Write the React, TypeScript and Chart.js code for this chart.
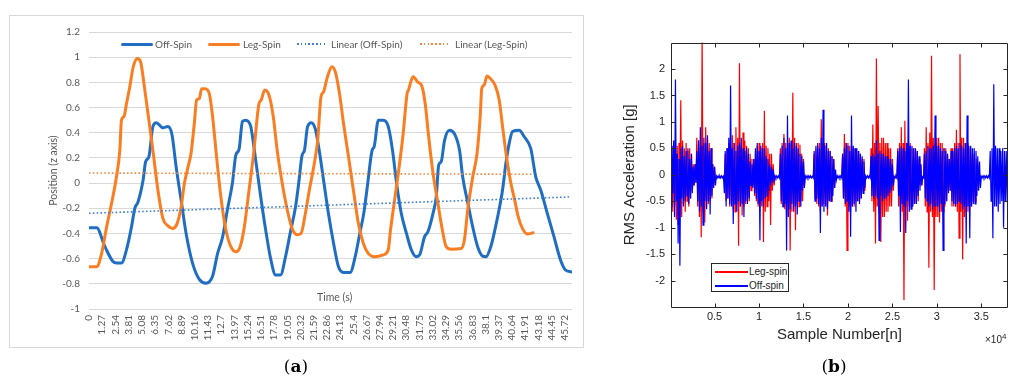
import React, { useEffect, useRef } from "react";
import { Chart, registerables } from "chart.js";

Chart.register(...registerables);

// ---------- (a) Position vs time ----------
const timeTicks = [
  0, 1.27, 2.54, 3.81, 5.08, 6.35, 7.62, 8.89, 10.16, 11.43, 12.7, 13.97, 15.24,
  16.51, 17.78, 19.05, 20.32, 21.59, 22.86, 24.13, 25.4, 26.67, 27.94, 29.21,
  30.48, 31.75, 33.02, 34.29, 35.56, 36.83, 38.1, 39.37, 40.64, 41.91, 43.18,
  44.45, 45.72,
];
const positionTicks = [-1, -0.8, -0.6, -0.4, -0.2, 0, 0.2, 0.4, 0.6, 0.8, 1, 1.2];

const offSpinTime = [
  0, 0.73, 1.53, 2.32, 2.64, 3.12, 3.6, 4.08, 4.4, 4.71, 5.19, 5.44, 5.76, 6.14,
  6.46, 7.1, 7.58, 7.96, 8.37, 8.85, 9.33, 9.96, 10.6, 11.24, 11.87, 12.35,
  12.83, 13.3, 13.78, 14.1, 14.42, 14.74, 15.06, 15.3, 15.54, 16.02, 16.5,
  16.97, 17.45, 17.93, 18.4, 18.88, 19.36, 19.84, 20.15, 20.47, 20.7, 21.0,
  21.36, 21.74, 22.06, 22.54, 23.0, 23.5, 23.97, 24.45, 25.09, 25.57, 26.05,
  26.4, 26.7, 27.2, 27.4, 27.8, 28.27, 28.75, 29.16, 29.55, 30.0, 30.5, 30.97,
  31.45, 31.77, 32.24, 32.57, 33.05, 33.36, 33.59, 33.84, 34.16, 34.64, 35.12,
  35.6, 35.9, 36.4, 36.87, 37.34, 37.82, 38.14, 38.6, 39.0, 39.4, 39.73, 40.05,
  40.37, 40.69, 41.33, 41.8, 42.44, 42.92, 43.4, 44.03, 44.67, 45.3, 45.78,
  46.32,
];
const offSpinPos = [
  -0.355, -0.355, -0.505, -0.625, -0.635, -0.635, -0.53, -0.35, -0.2, -0.15,
  0.02, 0.17, 0.21, 0.45, 0.48, 0.44, 0.45, 0.39, 0.13, -0.135, -0.4, -0.64,
  -0.765, -0.795, -0.74, -0.56, -0.43, -0.21, 0.0, 0.22, 0.27, 0.49, 0.5, 0.49,
  0.45, 0.18, -0.11, -0.37, -0.6, -0.73, -0.73, -0.585, -0.385, -0.19, 0.0,
  0.22, 0.26, 0.45, 0.48, 0.43, 0.29, 0.02, -0.24, -0.48, -0.665, -0.71, -0.71,
  -0.585, -0.385, -0.24, -0.055, 0.26, 0.29, 0.5, 0.5, 0.45, 0.26, 0.0, -0.24,
  -0.4, -0.53, -0.585, -0.57, -0.425, -0.385, -0.24, -0.11, 0.14, 0.17, 0.34,
  0.42, 0.39, 0.26, 0.05, -0.16, -0.35, -0.505, -0.58, -0.585, -0.505, -0.37,
  -0.21, -0.055, 0.155, 0.315, 0.41, 0.42, 0.37, 0.275, 0.05, -0.055, -0.24,
  -0.425, -0.61, -0.69, -0.705,
];

const legSpinTime = [
  0, 0.73, 1.21, 1.69, 2.17, 2.64, 2.96, 3.12, 3.37, 3.6, 3.92, 4.24, 4.65, 4.97,
  5.28, 5.67, 6.14, 6.62, 7.1, 7.58, 8.05, 8.47, 8.85, 9.17, 9.49, 9.8, 10.12,
  10.34, 10.6, 10.82, 11.14, 11.56, 11.87, 12.29, 12.67, 13.15, 13.63, 14.1,
  14.52, 14.9, 15.38, 15.85, 16.17, 16.33, 16.55, 16.88, 17.29, 17.7, 18.08,
  18.56, 19.04, 19.51, 19.99, 20.37, 20.79, 21.17, 21.59, 21.97, 22.29, 22.54,
  22.86, 23.34, 23.66, 24.07, 24.45, 24.93, 25.4, 25.88, 26.36, 26.84, 27.47,
  28.27, 28.75, 28.97, 29.4, 29.8, 30.18, 30.56, 30.7, 30.92, 31.14, 31.55,
  32.0, 32.3, 32.63, 33.05, 33.52, 33.9, 34.32, 34.8, 35.75, 36.07, 36.39,
  36.87, 37.28, 37.6, 37.73, 37.98, 38.23, 38.56, 39.0, 39.41, 39.73, 40.11,
  40.53, 40.9, 41.23, 41.64, 42.12, 42.66,
];
const legSpinPos = [
  -0.665, -0.665, -0.56, -0.35, -0.16, 0.05, 0.26, 0.5, 0.53, 0.63, 0.765, 0.92,
  0.99, 0.96, 0.79, 0.55, 0.26, -0.055, -0.28, -0.34, -0.36, -0.32, -0.19, 0.0,
  0.12, 0.235, 0.475, 0.66, 0.67, 0.75, 0.75, 0.71, 0.53, 0.18, -0.11, -0.37,
  -0.505, -0.545, -0.505, -0.36, -0.055, 0.26, 0.53, 0.63, 0.66, 0.74, 0.7,
  0.53, 0.26, 0.0, -0.21, -0.36, -0.41, -0.4, -0.24, -0.055, 0.13, 0.34, 0.685,
  0.725, 0.83, 0.925, 0.885, 0.71, 0.475, 0.21, -0.055, -0.32, -0.48, -0.56,
  -0.585, -0.57, -0.53, -0.37, -0.11, 0.13, 0.39, 0.71, 0.74, 0.805, 0.845,
  0.805, 0.765, 0.63, 0.37, 0.08, -0.16, -0.35, -0.505, -0.525, -0.52, -0.45,
  -0.21, 0.05, 0.235, 0.55, 0.75, 0.78, 0.85, 0.83, 0.78, 0.66, 0.45, 0.21, 0.0,
  -0.135, -0.265, -0.36, -0.405, -0.395,
];

const offTrendTime = [0, 46.32];
const offTrendPos = [-0.24, -0.11];
const legTrendTime = [0, 42.66];
const legTrendPos = [0.08, 0.07];

// ---------- (b) RMS acceleration vs sample number ----------
const sampleStep = 100;
const offSpinRms = [
  0.45, -0.6, 0.55, -0.35, 0.65, -0.8, 1.8, -0.5, 0.4, -1.3,
  0.3, -1.72, 0.5, -0.45, 0.55, -0.6, 0.35, -0.5, 0.45, -0.4,
  0.5, -0.55, 0.3, -0.45, 0.4, -0.35, 0.15, -0.2, 0.2, -0.15,
  0.45, -0.5, 0.65, -0.7, 0.9, -0.6, 0.55, -0.95, 0.7, -0.5,
  0.6, -0.65, 0.75, -0.5, 0.45, -0.75, 0.5, -0.4, 0.2, -0.25,
  0.15, -0.2, -0.02, -0.06, -0.02, -0.06, -0.02, -0.06, -0.02, -0.06,
  -0.03, -0.35, 0.45, -0.6, 0.5, -0.45, 0.7, -0.55, 1.69, -0.6,
  0.5, -0.93, 0.6, -0.55, 0.45, -0.7, 0.55, -0.5, 0.6, -0.6,
  0.7, -0.55, 0.5, -0.8, 0.45, -0.5, 0.5, -0.55, 0.4, -0.45,
  0.25, -0.2, 0.2, -0.25, 0.3, -0.35, 0.5, -0.45, 0.6, -0.55,
  0.45, -1.24, 0.55, -0.5, 0.5, -0.6, 0.5, -0.45, 0.35, -0.4,
  0.3, -0.3, 0.2, -0.2, 0.15, -0.15, 0.1, -0.1, -0.02, -0.06,
  -0.02, -0.06, -0.02, -0.06, 0.4, -0.5, 0.55, -0.6, 0.7, -0.55,
  0.5, -1.43, 1.12, -0.8, 0.6, -0.65, 0.65, -0.55, 0.5, -0.7,
  0.6, -0.6, 0.55, -0.75, 0.5, -0.5, 0.4, -0.6, 0.35, -0.3,
  0.25, -0.25, -0.02, -0.06, -0.02, -0.06, -0.02, -0.06, -0.02, -0.06,
  -0.03, -0.06, 0.45, -0.5, 0.55, -0.45, 0.6, -0.55, 0.5, -1.1,
  0.7, -0.6, 1.23, -0.7, 0.55, -0.6, 0.6, -0.65, 0.45, -0.5,
  0.45, -0.5, 0.35, -0.4, 0.3, -0.25, 0.1, -0.1, -0.02, -0.06,
  -0.02, -0.06, -0.02, -0.06, 0.4, -0.45, 0.5, -0.55, 0.6, -0.5,
  0.55, -0.7, 0.45, -1.17, 1.12, -0.6, 0.55, -0.55, 0.5, -0.7,
  0.5, -0.5, 0.45, -0.55, 0.4, -0.45, 0.35, -0.35, 0.25, -0.25,
  -0.02, -0.06, -0.02, -0.06, -0.02, -0.06, 0.35, -0.4, 0.4, -0.45,
  0.35, -0.4, 0.65, -0.45, 0.4, -1.24, 0.45, -0.4, 0.4, -0.5,
  0.4, -0.45, 0.35, -0.45, 0.35, -0.4, 0.3, -0.35, 0.3, -0.3,
  0.2, -0.2, -0.03, -0.06, -0.02, -0.06, 0.45, -0.4, 0.5, -1.08,
  0.55, -0.55, 0.5, -0.6, 0.45, -1.1, 0.6, -0.5, 1.8, -0.7,
  0.55, -0.65, 0.55, -0.6, 0.5, -0.55, 0.5, -0.55, 0.45, -0.4,
  0.35, -0.3, 0.2, -0.2, -0.04, -0.06, 0.4, -0.45, 0.45, -0.5,
  0.55, -0.6, 0.5, -0.55, 0.5, -0.65, 0.55, -0.6, 1.12, -0.6,
  0.55, -0.6, 0.55, -0.7, 0.5, -0.55, 0.45, -1.43, 0.5, -0.55,
  0.45, -0.5, 0.4, -0.35, 0.3, -0.3, 0.45, -0.5, 0.45, -0.55,
  0.5, -0.6, 0.55, -0.55, 0.5, -0.5, 0.6, -0.55, 0.55, -0.65,
  0.5, -0.6, 0.6, -1.3, 1.12, -0.6, 0.55, -1.2, 0.55, -0.6,
  0.5, -0.55, 0.5, -0.55, 0.45, -0.4, 0.35, -0.3, 0.25, -0.25,
  -0.03, -0.06, -0.02, -0.06, -0.02, -0.06, -0.02, -0.06, -0.02, -0.06,
  0.45, -0.5, 0.5, -1.2, 1.71, -0.6, 0.55, -0.6, 0.5, -0.7,
  0.5, -0.55, 0.45, -0.5, 0.5, -1.0, 0.45, -0.5, 0.45, -0.5,
  0.35,
];
const legSpinRms = [
  0.6, -0.5, 0.55, -0.7, 0.5, -0.6, 0.45, -0.85, 0.55, -0.95,
  0.6, -0.5, 1.41, -0.8, 0.65, -0.55, 0.5, -0.7, 0.6, -0.5,
  0.45, -0.6, 0.5, -0.45, 0.4, -0.3, 0.2, -0.2, 0.2, -0.15,
  0.7, -0.6, 0.65, -0.8, 0.5, -1.18, 2.7, -0.7, 0.6, -0.9,
  0.9, -0.6, 0.7, -0.55, 0.6, -0.5, 0.5, -0.45, 0.2, -0.2,
  0.15, -0.1, -0.03, -0.04, -0.03, -0.04, -0.03, -0.04, -0.03, -0.04,
  -0.03, -0.04, 0.4, -0.5, 0.5, -0.45, 0.6, -0.6, 0.55, -0.5,
  0.75, -0.65, 0.6, -0.7, 0.9, -0.55, 0.7, -1.34, 2.11, -0.6,
  0.55, -0.77, 0.8, -0.6, 0.65, -0.55, 0.55, -0.5, 0.5, -0.5,
  0.4, -0.3, 0.3, -0.2, 0.3, -0.4, 0.45, -0.5, 0.55, -0.6,
  0.6, -0.55, 0.5, -0.6, 0.6, -1.27, 1.21, -0.7, 0.55, -0.6,
  0.5, -0.5, 0.4, -0.95, 0.4, -0.3, 0.2, -0.2, -0.03, -0.04,
  -0.03, -0.04, -0.03, -0.04, 0.5, -0.55, 0.6, -0.6, 0.77, -0.65,
  0.6, -0.8, 0.6, -0.6, 0.7, -1.43, 0.6, -0.7, 1.55, -0.6,
  0.7, -1.05, 0.6, -0.55, 0.6, -0.6, 0.57, -0.5, 0.4, -0.5,
  0.3, -0.2, -0.03, -0.04, -0.03, -0.04, -0.03, -0.04, -0.03, -0.04,
  -0.03, -0.04, 0.4, -0.45, 0.5, -0.55, 0.55, -0.6, 0.6, -0.7,
  1.05, -0.6, 0.6, -0.55, 0.6, -0.6, 0.5, -0.77, 0.5, -0.5,
  0.45, -0.5, 0.35, -0.3, 0.3, -0.25, -0.03, -0.04, -0.03, -0.04,
  -0.03, -0.04, -0.03, -0.04, 0.4, -0.45, 0.77, -0.6, 0.6, -1.43,
  0.6, -0.6, 0.55, -0.7, 0.55, -0.6, 0.5, -0.6, 0.5, -0.5,
  0.45, -0.5, 0.45, -0.5, 0.4, -0.45, 0.3, -0.3, 0.3, -0.3,
  -0.03, -0.04, -0.03, -0.04, -0.03, -0.04, 0.5, -0.5, 0.95, -0.7,
  0.6, -1.3, 2.2, -0.6, 1.3, -0.7, 0.6, -1.27, 0.7, -0.8,
  0.7, -0.8, 0.6, -0.7, 0.6, -0.7, 0.5, -0.6, 0.5, -0.6,
  0.3, -0.3, -0.03, -0.04, -0.03, -0.04, 0.5, -0.6, 0.6, -0.6,
  0.9, -0.7, 0.6, -2.37, 1.02, -0.6, 0.6, -0.87, 0.6, -0.6,
  0.6, -0.6, 0.5, -0.55, 0.5, -0.55, 0.45, -0.5, 0.45, -0.5,
  0.3, -0.2, 0.2, -0.2, -0.03, -0.04, 0.5, -0.6, 0.9, -0.7,
  0.6, -1.76, 0.8, -0.7, 2.25, -0.8, 0.7, -2.18, 0.6, -0.8,
  0.7, -0.8, 0.7, -0.9, 0.6, -0.7, 0.6, -0.7, 0.5, -0.6,
  0.5, -0.5, 0.4, -0.3, 0.3, -0.3, 0.5, -0.6, 0.5, -0.6,
  0.6, -0.6, 0.85, -0.7, 0.6, -1.2, 2.28, -0.7, 0.7, -1.6,
  0.7, -0.8, 0.6, -0.7, 0.6, -0.7, 0.5, -0.6, 0.5, -0.6,
  0.4, -0.5, 0.4, -0.5, 0.3, -0.3, 0.2, -0.2, -0.03, -0.04,
  -0.03, -0.04, -0.03,
];
const sampleTicks = [5000, 10000, 15000, 20000, 25000, 30000, 35000];
const sampleTickLabels = ["0.5", "1", "1.5", "2", "2.5", "3", "3.5"];
const accelTicks = [-2, -1.5, -1, -0.5, 0, 0.5, 1, 1.5, 2];
const accelTickLabels = ["-2", "-1.5", "-1", "-0.5", "0", "0.5", "1", "1.5", "2"];

const excelGray = "#595959";
const matlabInk = "#262626";

function pairs(xs: number[], ys: number[]) {
  return xs.map((x, i) => ({ x, y: ys[i] }));
}

function PositionChart() {
  const ref = useRef<HTMLCanvasElement | null>(null);
  useEffect(() => {
    if (!ref.current) return;
    const chart = new Chart(ref.current, {
      type: "line",
      data: {
        datasets: [
          {
            label: "Linear (Off-Spin)",
            data: pairs(offTrendTime, offTrendPos),
            borderColor: "#3d7fd3",
            borderWidth: 1.6,
            borderDash: [1.6, 2.2],
            pointRadius: 0,
            order: 0,
          },
          {
            label: "Linear (Leg-Spin)",
            data: pairs(legTrendTime, legTrendPos),
            borderColor: "#f8873f",
            borderWidth: 1.6,
            borderDash: [1.6, 2.2],
            pointRadius: 0,
            order: 0,
          },
          {
            label: "Leg-Spin",
            data: pairs(legSpinTime, legSpinPos),
            borderColor: "#fb7d22",
            borderWidth: 3,
            pointRadius: 0,
            cubicInterpolationMode: "monotone",
            borderCapStyle: "round",
            borderJoinStyle: "round",
            order: 1,
          },
          {
            label: "Off-Spin",
            data: pairs(offSpinTime, offSpinPos),
            borderColor: "#1f6ec4",
            borderWidth: 3,
            pointRadius: 0,
            cubicInterpolationMode: "monotone",
            borderCapStyle: "round",
            borderJoinStyle: "round",
            order: 2,
          },
        ],
      },
      options: {
        responsive: false,
        animation: false,
        events: [],
        layout: { padding: { left: 37, top: 16, right: 8, bottom: 0 } },
        plugins: { legend: { display: false }, tooltip: { enabled: false } },
        scales: {
          x: {
            type: "linear",
            min: 0,
            max: 46.4,
            afterBuildTicks: (s: any) => {
              s.ticks = timeTicks.map((v) => ({ value: v }));
            },
            afterFit: (s: any) => {
              s.height = 38;
            },
            grid: { display: false, drawTicks: false },
            border: { display: false },
            ticks: {
              autoSkip: false,
              maxRotation: 90,
              minRotation: 90,
              padding: 6,
              color: excelGray,
              font: { family: "Lato", size: 10 },
              callback: (v: any) => String(v),
            },
          },
          y: {
            type: "linear",
            min: -1,
            max: 1.2,
            afterBuildTicks: (s: any) => {
              s.ticks = positionTicks.map((v) => ({ value: v }));
            },
            afterFit: (s: any) => {
              s.width = 42;
            },
            grid: { color: "#d9d9d9", lineWidth: 1, drawTicks: false },
            border: { display: false },
            ticks: {
              padding: 9,
              color: excelGray,
              font: { family: "Lato", size: 10 },
              callback: (v: any) => String(v),
            },
            title: {
              display: true,
              text: "Position (z axis)",
              color: excelGray,
              font: { family: "Lato", size: 10.5 },
              padding: { top: 0, bottom: 0 },
            },
          },
        },
      },
    });
    return () => chart.destroy();
  }, []);
  return (
    <canvas
      ref={ref}
      width={573}
      height={331}
      style={{ position: "absolute", left: 10, top: 16, width: 573, height: 331 }}
    />
  );
}

const matlabFrame = {
  id: "matlabFrame",
  afterDatasetsDraw(chart: any) {
    const { ctx, chartArea: a, scales } = chart;
    const L = Math.round(a.left) + 0.5;
    const T = Math.round(a.top) + 0.5;
    const R = Math.round(a.right) + 0.5;
    const B = Math.round(a.bottom) + 0.5;
    ctx.save();
    ctx.strokeStyle = matlabInk;
    ctx.lineWidth = 1;
    ctx.beginPath();
    ctx.rect(L, T, R - L - 1, B - T);
    const tl = 4;
    scales.x.ticks.forEach((t: any) => {
      const px = Math.round(scales.x.getPixelForValue(t.value)) + 0.5;
      ctx.moveTo(px, B);
      ctx.lineTo(px, B - tl);
      ctx.moveTo(px, T);
      ctx.lineTo(px, T + tl);
    });
    scales.y.ticks.forEach((t: any) => {
      const py = Math.round(scales.y.getPixelForValue(t.value)) + 0.5;
      ctx.moveTo(L, py);
      ctx.lineTo(L + tl, py);
      ctx.moveTo(R - 1, py);
      ctx.lineTo(R - 1 - tl, py);
    });
    ctx.stroke();
    ctx.restore();
  },
};

function RmsChart() {
  const ref = useRef<HTMLCanvasElement | null>(null);
  useEffect(() => {
    if (!ref.current) return;
    const chart = new Chart(ref.current, {
      type: "line",
      data: {
        datasets: [
          {
            label: "Leg-spin",
            data: legSpinRms.map((v, i) => ({ x: i * sampleStep, y: v })),
            borderColor: "#ff0000",
            borderWidth: 1.2,
            pointRadius: 0,
            order: 2,
          },
          {
            label: "Off-spin",
            data: offSpinRms.map((v, i) => ({ x: i * sampleStep, y: v })),
            borderColor: "#0000ff",
            borderWidth: 1.2,
            pointRadius: 0,
            order: 1,
          },
        ],
      },
      options: {
        responsive: false,
        animation: false,
        events: [],
        layout: { padding: { left: 21, top: 12, right: 1, bottom: 0 } },
        plugins: { legend: { display: false }, tooltip: { enabled: false } },
        scales: {
          x: {
            type: "linear",
            min: 100,
            max: 38000,
            afterBuildTicks: (s: any) => {
              s.ticks = sampleTicks.map((v) => ({ value: v }));
            },
            afterFit: (s: any) => {
              s.height = 43;
            },
            grid: { display: false, drawTicks: false },
            border: { display: false },
            ticks: {
              autoSkip: false,
              maxRotation: 0,
              minRotation: 0,
              padding: 3,
              color: matlabInk,
              font: { family: "Liberation Sans", size: 11 },
              callback: (_v: any, i: number) => sampleTickLabels[i],
            },
            title: {
              display: true,
              text: "Sample Number[n]",
              color: matlabInk,
              font: { family: "Liberation Sans", size: 15 },
              padding: { top: 0, bottom: 6 },
            },
          },
          y: {
            type: "linear",
            min: -2.5,
            max: 2.5,
            afterBuildTicks: (s: any) => {
              s.ticks = accelTicks.map((v) => ({ value: v }));
            },
            afterFit: (s: any) => {
              s.width = 50;
            },
            grid: { display: false, drawTicks: false },
            border: { display: false },
            ticks: {
              padding: 6,
              color: matlabInk,
              font: { family: "Liberation Sans", size: 11 },
              callback: (_v: any, i: number) => accelTickLabels[i],
            },
            title: {
              display: true,
              text: "RMS Acceleration [g]",
              color: matlabInk,
              font: { family: "Liberation Sans", size: 15 },
              padding: { top: 0, bottom: 0 },
            },
          },
        },
      },
      plugins: [matlabFrame],
    });
    return () => chart.destroy();
  }, []);
  return (
    <canvas
      ref={ref}
      width={409}
      height={320}
      style={{ position: "absolute", left: 600, top: 30, width: 409, height: 320 }}
    />
  );
}

const legendText: React.CSSProperties = {
  position: "absolute",
  top: 37,
  height: 14,
  lineHeight: "14px",
  fontFamily: "Lato",
  fontSize: 10,
  color: excelGray,
  whiteSpace: "nowrap",
};

function solidKey(left: number, color: string) {
  return (
    <div
      style={{ position: "absolute", left, top: 42.5, width: 32, height: 3, background: color, borderRadius: 1.5 }}
    />
  );
}

function dottedKey(left: number, color: string) {
  return (
    <div
      style={{
        position: "absolute",
        left,
        top: 43,
        width: 29,
        height: 2,
        backgroundImage: `repeating-linear-gradient(90deg, ${color} 0 1.6px, transparent 1.6px 3.8px)`,
      }}
    />
  );
}

const bLegendText: React.CSSProperties = {
  position: "absolute",
  left: 37,
  lineHeight: "13px",
  fontFamily: "Liberation Sans",
  fontSize: 10,
  color: matlabInk,
  whiteSpace: "nowrap",
};

export default function App() {
  return (
    <div
      style={{
        position: "absolute",
        left: 0,
        top: 0,
        width: 1009,
        height: 376,
        background: "#ffffff",
        overflow: "hidden",
      }}
    >
      <div
        style={{
          position: "absolute",
          left: 9,
          top: 15,
          width: 575,
          height: 333,
          border: "1px solid #d9d9d9",
          boxSizing: "border-box",
        }}
      />
      <PositionChart />
      {solidKey(121, "#1f6ec4")}
      <div style={{ ...legendText, left: 155 }}>Off-Spin</div>
      {solidKey(208, "#fb7d22")}
      <div style={{ ...legendText, left: 243 }}>Leg-Spin</div>
      {dottedKey(297, "#3d7fd3")}
      <div style={{ ...legendText, left: 331 }}>Linear (Off-Spin)</div>
      {dottedKey(420, "#f8873f")}
      <div style={{ ...legendText, left: 455 }}>Linear (Leg-Spin)</div>
      <div
        style={{
          position: "absolute",
          left: 317,
          top: 290,
          lineHeight: "14px",
          fontFamily: "Lato",
          fontSize: 10.5,
          color: excelGray,
          whiteSpace: "nowrap",
        }}
      >
        Time (s)
      </div>

      <RmsChart />
      <div
        style={{
          position: "absolute",
          left: 711,
          top: 263,
          width: 78,
          height: 29,
          border: `1px solid ${matlabInk}`,
          background: "#ffffff",
          boxSizing: "border-box",
        }}
      >
        <div style={{ position: "absolute", left: 3, top: 7, width: 33, height: 2, background: "#ff0000" }} />
        <div style={{ ...bLegendText, top: 1 }}>Leg-spin</div>
        <div style={{ position: "absolute", left: 3, top: 21, width: 33, height: 2, background: "#0000ff" }} />
        <div style={{ ...bLegendText, top: 15 }}>Off-spin</div>
      </div>
      <div
        style={{
          position: "absolute",
          left: 985,
          top: 331,
          lineHeight: "12px",
          fontFamily: "Liberation Sans",
          fontSize: 10,
          color: matlabInk,
          whiteSpace: "nowrap",
        }}
      >
        ×10<sup style={{ fontSize: 8, verticalAlign: "4px" }}>4</sup>
      </div>

      <div
        style={{
          position: "absolute",
          left: 256,
          top: 355,
          width: 80,
          textAlign: "center",
          lineHeight: "22px",
          fontFamily: "DejaVu Serif",
          fontSize: 17,
          color: "#000",
        }}
      >
        (<b>a</b>)
      </div>
      <div
        style={{
          position: "absolute",
          left: 794,
          top: 355,
          width: 80,
          textAlign: "center",
          lineHeight: "22px",
          fontFamily: "DejaVu Serif",
          fontSize: 17,
          color: "#000",
        }}
      >
        (<b>b</b>)
      </div>
    </div>
  );
}
